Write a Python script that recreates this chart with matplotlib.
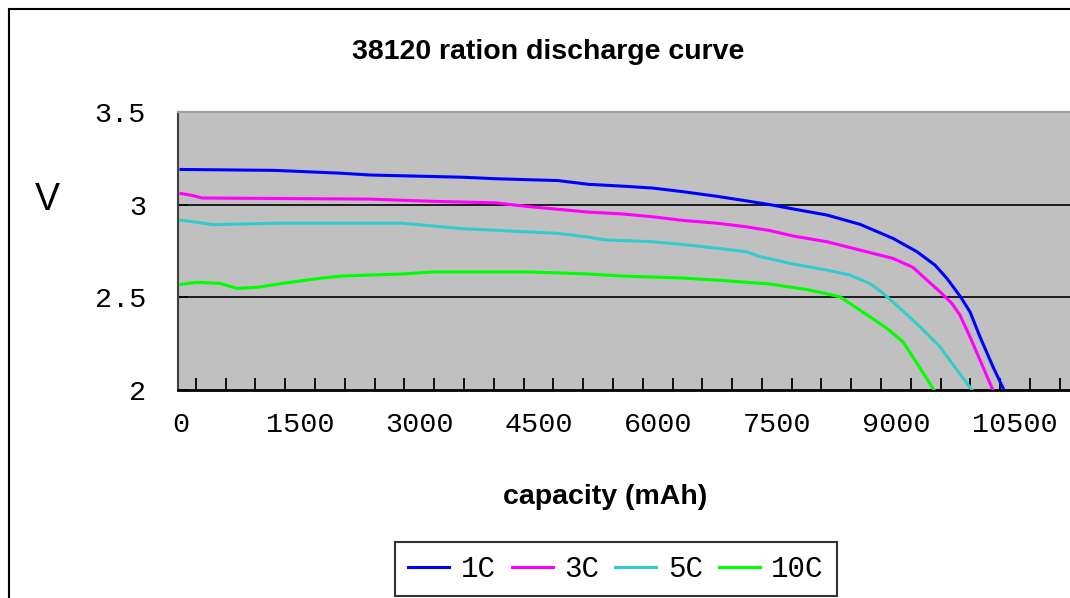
import numpy as np
import matplotlib
matplotlib.use('Agg')
import matplotlib.pyplot as plt
from matplotlib.patches import Rectangle
from matplotlib.ticker import FixedLocator

# Dados (capacidade em mAh, tensão em V)
cap_1c = [0, 1183, 2001, 2379, 3550, 3953, 4746, 5123, 5551, 5929, 6319, 6747, 7125, 7414,
          7704, 8132, 8547, 8963, 9265, 9491, 9642, 9806, 9932, 10058, 10222, 10360]
v_1c = [3.19, 3.185, 3.17, 3.16, 3.148, 3.14, 3.13, 3.11, 3.10, 3.09, 3.07, 3.045, 3.02, 3.00,
        2.977, 2.944, 2.894, 2.818, 2.746, 2.674, 2.602, 2.507, 2.422, 2.287, 2.125, 2.0]

cap_3c = [0, 138, 264, 2379, 3172, 3953, 4368, 4746, 5123, 5551, 5929, 6319, 6747, 7125, 7414,
          7704, 8132, 8547, 8963, 9214, 9391, 9554, 9705, 9806, 9932, 10058, 10220]
v_3c = [3.06, 3.05, 3.036, 3.03, 3.018, 3.01, 2.99, 2.975, 2.96, 2.95, 2.935, 2.915, 2.90, 2.88, 2.86,
        2.831, 2.80, 2.755, 2.71, 2.662, 2.593, 2.53, 2.467, 2.404, 2.287, 2.162, 2.0]

cap_5c = [0, 201, 403, 1208, 2782, 3172, 3550, 3953, 4746, 5123, 5337, 5929, 6319, 6747, 7125,
          7288, 7704, 8132, 8421, 8673, 8837, 9051, 9303, 9554, 9768, 9957]
v_5c = [2.916, 2.905, 2.892, 2.90, 2.90, 2.885, 2.87, 2.862, 2.845, 2.825, 2.81, 2.80, 2.785, 2.765, 2.745,
        2.72, 2.68, 2.647, 2.62, 2.575, 2.522, 2.441, 2.341, 2.233, 2.108, 2.0]

cap_10c = [0, 201, 491, 705, 969, 1372, 1775, 2027, 2782, 3172, 4368, 5123, 5551, 6319, 6747,
           7125, 7414, 7918, 8295, 8547, 8887, 9088, 9265, 9479]
v_10c = [2.570, 2.581, 2.575, 2.548, 2.555, 2.581, 2.604, 2.615, 2.626, 2.637, 2.637, 2.626, 2.615, 2.604, 2.593,
         2.581, 2.572, 2.539, 2.503, 2.431, 2.333, 2.26, 2.144, 2.0]

series = [('1C', cap_1c, v_1c, '#0000FF'),
          ('3C', cap_3c, v_3c, '#FF00FF'),
          ('5C', cap_5c, v_5c, '#33CCCC'),
          ('10C', cap_10c, v_10c, '#00FF00')]

x_ticks = [0, 1500, 3000, 4500, 6000, 7500, 9000, 10500]
y_ticks = [2, 2.5, 3, 3.5]
y_labels = ['2', '2.5', '3', '3.5']

mono = 'Liberation Mono'
W, H = 1070, 598

fig = plt.figure(figsize=(W / 100, H / 100), dpi=100, facecolor='white')
ax = fig.add_axes([178 / W, (H - 390) / H, (1075 - 178) / W, (390 - 112) / H])
ax.set_facecolor('#C0C0C0')

for nome, x, y, cor in series:
    ax.plot(x, y, color=cor, lw=2.2, label=nome, solid_joinstyle='miter', zorder=3)

ax.set_xlim(-38, 11254)
ax.set_ylim(2, 3.5)

# Linhas de grade horizontais
for yv in [2.5, 3.0]:
    ax.axhline(yv, color='black', lw=1.2, zorder=2)

ax.set_xticks(x_ticks)
ax.set_xticklabels([str(v) for v in x_ticks], fontfamily=mono, fontsize=20.5)
ax.xaxis.set_minor_locator(FixedLocator(np.arange(187.5, 11254, 375)))
ax.tick_params(axis='x', which='major', length=0, pad=16)
ax.tick_params(axis='x', which='minor', direction='in', length=9, width=1.3, color='black')

ax.set_yticks(y_ticks)
ax.set_yticklabels(y_labels, fontfamily=mono, fontsize=20.5)
ax.tick_params(axis='y', direction='in', length=7, width=1.3, color='#333333', pad=23)

ax.spines['top'].set_color('#A0A0A0')
ax.spines['top'].set_linewidth(1.5)
ax.spines['left'].set_color('#404040')
ax.spines['left'].set_linewidth(1.5)
ax.spines['bottom'].set_color('black')
ax.spines['bottom'].set_linewidth(2)
ax.spines['right'].set_visible(False)

# Textos
fig.text(548 / W, 1 - 52 / H, '38120 ration discharge curve', ha='center', va='center',
         fontfamily='Liberation Sans', fontweight='bold', fontsize=20.5)
fig.text(605 / W, 1 - 497 / H, 'capacity (mAh)', ha='center', va='center',
         fontfamily='Liberation Sans', fontweight='bold', fontsize=20.5)
fig.text(47 / W, 1 - 200 / H, 'V', ha='center', va='center',
         fontfamily='Liberation Sans', fontsize=27)

# Legenda
leg = fig.legend(loc='center', bbox_to_anchor=(616 / W, 1 - 569 / H), ncol=4,
                 prop={'family': mono, 'size': 21}, frameon=True, fancybox=False,
                 handlelength=1.4, handletextpad=0.4, columnspacing=0.55,
                 borderpad=0.45, borderaxespad=0)
leg.get_frame().set_edgecolor('black')
leg.get_frame().set_linewidth(1.5)

# Moldura externa
fig.add_artist(Rectangle((9 / W, -0.05), 1.1, 1.05 - 9 / H, transform=fig.transFigure,
                         fill=False, edgecolor='black', lw=1.5, clip_on=False))

plt.savefig('out.png', dpi=100)
